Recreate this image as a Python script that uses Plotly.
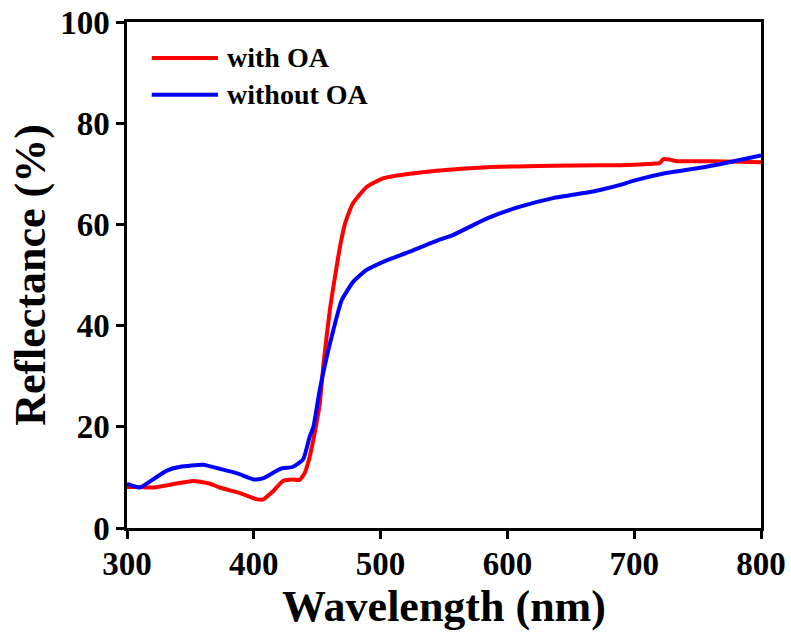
import plotly.graph_objects as go

# Wavelength (nm) and reflectance (%)
wl_with = [300, 310, 320, 335, 352, 365, 373, 389, 402, 407, 415, 423, 431, 436, 440, 444,
           448, 452, 455, 460, 464, 468, 472, 478, 489, 502, 520, 544, 584, 636, 673, 689,
           700, 715, 720, 723, 728, 734, 760, 783, 800]
r_with = [8.1, 8.1, 8.0, 8.6, 9.3, 8.8, 8.0, 6.9, 5.7, 5.6, 7.2, 9.3, 9.6, 9.5, 10.8, 14.0,
          18.8, 24.5, 32.5, 43.1, 49.6, 55.6, 60.2, 64.1, 67.4, 69.1, 69.9, 70.6, 71.3, 71.6, 71.7, 71.7,
          71.8, 72.0, 72.1, 72.9, 72.8, 72.5, 72.5, 72.4, 72.3]

wl_without = [300, 310, 320, 331, 342, 360, 373, 387, 400, 407, 421, 431, 439, 444, 447, 452,
              457.5, 462.7, 469.3, 478.5, 489, 504.8, 523, 545.5, 557, 584, 610, 636, 663, 673,
              689, 699, 726, 752, 773, 800]
r_without = [8.7, 8.0, 9.5, 11.3, 12.1, 12.5, 11.7, 10.8, 9.6, 9.8, 11.7, 12.1, 13.6, 18.0, 20.0, 27.3,
             33.8, 39.1, 45.0, 48.7, 51.0, 52.9, 54.6, 56.9, 57.9, 61.2, 63.5, 65.2, 66.3, 66.8,
             67.8, 68.6, 70.2, 71.2, 72.2, 73.6]

series_names = ["with OA", "without OA"]
series_colors = ["#FF0000", "#0000FF"]

x_ticks = [300, 400, 500, 600, 700, 800]
y_ticks = [0, 20, 40, 60, 80, 100]

FONT = "Liberation Serif"

fig = go.Figure()
for wl, r, name, col in [(wl_with, r_with, series_names[0], series_colors[0]),
                         (wl_without, r_without, series_names[1], series_colors[1])]:
    fig.add_trace(go.Scatter(x=wl, y=r, mode="lines", name=name, showlegend=False,
                             line=dict(color=col, width=4, shape="spline", smoothing=0.5)))

# custom legend (long line samples like the reference)
leg_y = [0.929, 0.856]
for name, col, yy in zip(series_names, series_colors, leg_y):
    fig.add_shape(type="line", xref="paper", yref="paper", x0=0.039, x1=0.1435, y0=yy, y1=yy,
                  line=dict(color=col, width=4))
    fig.add_annotation(xref="paper", yref="paper", x=0.155, y=yy, xanchor="left", yanchor="middle",
                       text=f"<b>{name}</b>", showarrow=False,
                       font=dict(family=FONT, size=28, color="black"))

axis_common = dict(showgrid=False, zeroline=False, showline=True, linecolor="black",
                   linewidth=2.5, mirror=True, ticks="outside", ticklen=8, tickwidth=2.5,
                   tickcolor="black", automargin=False,
                   tickfont=dict(family=FONT, size=33, color="black"))

fig.update_layout(
    width=791, height=634,
    margin=dict(l=127, r=30, t=22, b=106),
    plot_bgcolor="white", paper_bgcolor="white",
    font=dict(family=FONT, color="black"),
    showlegend=False,
    xaxis=dict(range=[300, 800], tickvals=x_ticks, ticktext=[f"<b>{v}</b>" for v in x_ticks],
               ticklabelstandoff=-3,
               title=dict(text="<b>Wavelength (nm)</b>", font=dict(family=FONT, size=44, color="black"),
                          standoff=2),
               **axis_common),
    yaxis=dict(range=[0, 100], tickvals=y_ticks, ticktext=[f"<b>{v}</b>" for v in y_ticks],
               title=dict(text="<b>Reflectance (%)</b>", font=dict(family=FONT, size=44, color="black"),
                          standoff=1),
               **axis_common),
)

fig.write_html("out.html", config={"displayModeBar": False},
               post_script="document.body.style.margin='0px';document.body.style.overflow='hidden';")
